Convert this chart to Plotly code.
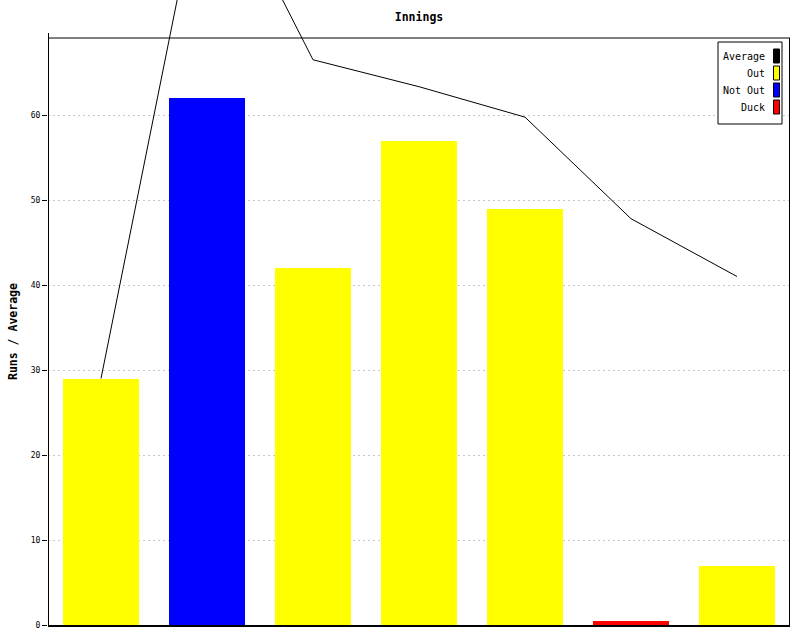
import plotly.graph_objects as go

innings = [1, 2, 3, 4, 5, 6, 7]
runs = [29, 62, 42, 57, 49, 0.5, 7]
status = ["Out", "Not Out", "Out", "Out", "Out", "Duck", "Out"]
average = [29, 91, 66.5, 63.33, 59.75, 47.8, 41]
y_ticks = [0, 10, 20, 30, 40, 50, 60]

legend_names = ["Average", "Out", "Not Out", "Duck"]
colors = {"Average": "black", "Out": "#ffff00", "Not Out": "#0000ff", "Duck": "#ff0000"}

W, H = 800, 640
ML, MR, MT, MB = 48, 10, 0, 15
plot_h = H - MT - MB            # 625
top_px = 38
px_per_unit = 8.5
frame_top = (plot_h - top_px) / px_per_unit   # data value at frame top
y_max = plot_h / px_per_unit                  # data value at figure top

mono = "DejaVu Sans Mono"

fig = go.Figure()
fig.add_trace(go.Bar(
    x=innings, y=runs, width=0.717,
    marker=dict(color=[colors[s] for s in status], line=dict(width=0)),
    showlegend=False, hoverinfo="x+y",
))
fig.add_trace(go.Scatter(
    x=innings, y=average, mode="lines",
    line=dict(color="black", width=1),
    showlegend=False,
))

fig.update_layout(
    width=W, height=H,
    margin=dict(l=ML, r=MR, t=MT, b=MB, autoexpand=False),
    paper_bgcolor="white", plot_bgcolor="white",
    showlegend=False,
    bargap=0,
    title=dict(text="<b>Innings</b>", x=0.5 * (ML + (W - MR)) / W, xanchor="center",
               y=1 - 17 / H, yanchor="middle", yref="container", automargin=False,
               font=dict(family=mono, size=11.5, color="black")),
    xaxis=dict(range=[0.5, 7.5], showticklabels=False, ticks="",
               showgrid=False, zeroline=False, automargin=False,
               showline=True, linecolor="black", linewidth=2),
    yaxis=dict(range=[0, y_max], automargin=False,
               tickvals=y_ticks, ticktext=[str(v) for v in y_ticks],
               ticks="outside", ticklen=5, tickcolor="black", tickwidth=1,
               tickfont=dict(family=mono, size=8, color="black"),
               showgrid=True, gridcolor="#c8c8c8", griddash="2px,3px", gridwidth=1,
               zeroline=False, showline=False),
)

def py(pix):
    return (plot_h - pix) / plot_h

def px(pix):
    return (pix - ML) / (W - ML - MR)

# y-axis title
fig.add_annotation(text="<b>Runs / Average</b>", xref="paper", yref="paper",
                   x=px(13), y=py(332),
                   textangle=-90, showarrow=False,
                   font=dict(family=mono, size=11.5, color="black"),
                   xanchor="center", yanchor="middle")

# frame: left axis (extends slightly above), top and right lines
fig.add_shape(type="line", xref="paper", yref="paper",
              x0=px(48.5), x1=px(48.5), y0=0, y1=py(33),
              line=dict(color="black", width=1), layer="above")
fig.add_shape(type="line", xref="x", yref="y",
              x0=0.5, x1=7.5, y0=frame_top, y1=frame_top,
              line=dict(color="black", width=1), layer="above")
fig.add_shape(type="line", xref="x", yref="y",
              x0=7.5, x1=7.5, y0=0, y1=frame_top,
              line=dict(color="black", width=2), layer="above")

# custom legend
fig.add_shape(type="rect", xref="paper", yref="paper",
              x0=px(718), x1=px(782), y0=py(124), y1=py(42),
              line=dict(color="black", width=1), fillcolor="white", layer="above")
row_y = [56, 73, 90, 107]
for name, ry in zip(legend_names, row_y):
    fig.add_annotation(text=name, xref="paper", yref="paper",
                       x=px(767), y=py(ry), xanchor="right", yanchor="middle",
                       showarrow=False,
                       font=dict(family=mono, size=10, color="black"))
    fig.add_shape(type="rect", xref="paper", yref="paper",
                  x0=px(773.5), x1=px(779.5), y0=py(ry + 7), y1=py(ry - 7),
                  line=dict(color="black", width=1), fillcolor=colors[name],
                  layer="above")

fig.write_html("out.html", config={"displayModeBar": False},
               post_script="document.body.style.margin='0';document.body.style.overflow='hidden';")
